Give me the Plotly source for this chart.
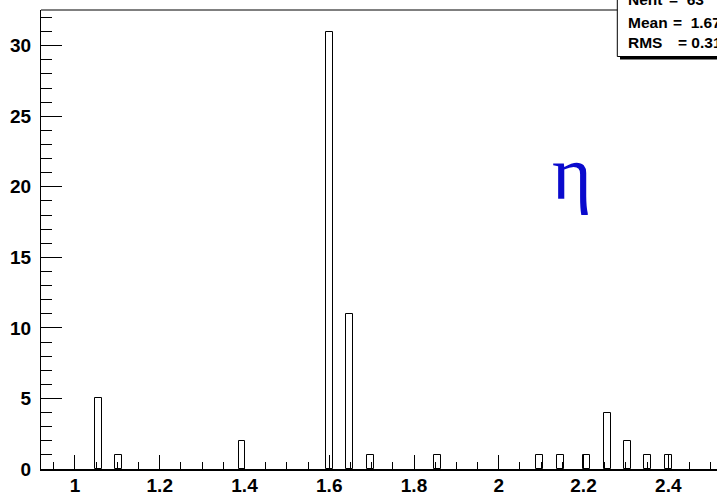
import plotly.graph_objects as go

# ---- data ----
bin_centers = [1.0562, 1.1031, 1.3941, 1.5995, 1.6477, 1.6965, 1.8560,
               2.0960, 2.1448, 2.2076, 2.2573, 2.3043, 2.3515, 2.4010]
counts = [5, 1, 2, 31, 11, 1, 1, 1, 1, 1, 4, 2, 1, 1]
bin_width = 0.0165
x_ticks = [1.0, 1.2, 1.4, 1.6, 1.8, 2.0, 2.2, 2.4]
x_tick_text = ["1", "1.2", "1.4", "1.6", "1.8", "2", "2.2", "2.4"]
y_ticks = [0, 5, 10, 15, 20, 25, 30]
stat_labels = ["Nent", "Mean", "RMS"]
stat_values = ["=  63", "=  1.671", "= 0.3189"]
label_text = "η"

W, H = 717, 493
L, R, T, B = 41, 0, 10, 24
PW, PH = W - L - R, H - T - B


def px(p):
    return (p - L) / PW


def py(p):
    return (H - B - p) / PH


fig = go.Figure()
fig.add_trace(go.Bar(
    x=bin_centers, y=counts, width=bin_width,
    marker=dict(color="white", line=dict(color="black", width=1)),
    hoverinfo="skip", showlegend=False,
))

tick_font = dict(family="Liberation Sans, Arial, sans-serif", size=19,
                 color="black", weight="bold")

fig.update_layout(
    width=W, height=H,
    margin=dict(l=L, r=R, t=T, b=B, pad=0, autoexpand=False),
    paper_bgcolor="white", plot_bgcolor="white",
    bargap=0,
    xaxis=dict(
        range=[0.9198, 2.515], showgrid=False, zeroline=False,
        automargin=False,
        showline=True, linecolor="black", linewidth=2,
        tickmode="array", tickvals=x_ticks, ticktext=x_tick_text,
        ticks="inside", ticklen=14, tickwidth=1, tickcolor="black",
        minor=dict(dtick=0.05, tick0=0.95, ticks="inside", ticklen=7,
                   tickwidth=1, tickcolor="black", showgrid=False),
        tickfont=tick_font, ticklabelstandoff=-2,
    ),
    yaxis=dict(
        range=[0, 32.53], showgrid=False, zeroline=False,
        automargin=False,
        showline=True, linecolor="black", linewidth=1.3,
        tickmode="array", tickvals=y_ticks,
        ticks="inside", ticklen=21, tickwidth=1, tickcolor="black",
        minor=dict(dtick=1, tick0=0, ticks="inside", ticklen=11,
                   tickwidth=1, tickcolor="black", showgrid=False),
        tickfont=tick_font, ticklabelstandoff=5,
    ),
)

# top frame line
fig.add_shape(type="line", xref="paper", yref="paper",
              x0=0, x1=1.05, y0=1, y1=1,
              line=dict(color="black", width=1))

# stats box shadow and box
fig.add_shape(type="rect", xref="paper", yref="paper",
              x0=px(620), x1=px(730), y0=py(59.5), y1=py(50),
              fillcolor="black", line=dict(width=0), layer="above")
fig.add_shape(type="rect", xref="paper", yref="paper",
              x0=px(617.3), x1=px(730), y0=py(56.5), y1=py(-10),
              fillcolor="white", line=dict(color="black", width=1),
              layer="above")

stat_font = dict(family="Liberation Sans, Arial, sans-serif", size=15.5,
                 color="black", weight="bold")
row_y = [-0.5, 22.0, 42.5]
val_x = [667.0, 671.0, 676.0]
for lab, val, yy, vx in zip(stat_labels, stat_values, row_y, val_x):
    fig.add_annotation(text=lab, xref="paper", yref="paper",
                       x=px(626), y=py(yy), xanchor="left", yanchor="middle",
                       showarrow=False, font=stat_font)
    fig.add_annotation(text=val, xref="paper", yref="paper",
                       x=px(vx), y=py(yy), xanchor="left", yanchor="middle",
                       showarrow=False, font=stat_font)

# eta label
fig.add_annotation(text=label_text, xref="paper", yref="paper",
                   x=px(572), y=py(173), xanchor="center", yanchor="middle",
                   showarrow=False,
                   font=dict(family="Liberation Serif, Times New Roman, serif",
                             size=76, color="rgb(10,10,205)"))

fig.write_html("out.html")
